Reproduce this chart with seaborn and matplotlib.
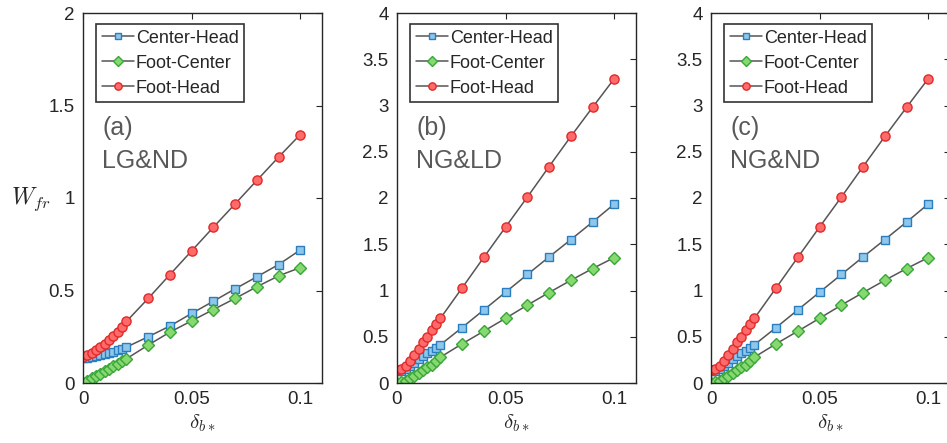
import numpy as np
import pandas as pd
import matplotlib
matplotlib.use('Agg')
import matplotlib.pyplot as plt
import seaborn as sns

# x values (delta_b*)
delta = [0, 0.002, 0.004, 0.006, 0.008, 0.01, 0.012, 0.014, 0.016, 0.018, 0.02,
         0.03, 0.04, 0.05, 0.06, 0.07, 0.08, 0.09, 0.1]

# panel (a) LG&ND
a_center_head = [0.135, 0.137, 0.140, 0.145, 0.150, 0.156, 0.162, 0.169, 0.176, 0.185, 0.194,
                 0.250, 0.308, 0.376, 0.442, 0.509, 0.574, 0.640, 0.719]
a_foot_center = [0.0, 0.012, 0.025, 0.038, 0.051, 0.064, 0.077, 0.090, 0.104, 0.117, 0.131,
                 0.205, 0.275, 0.336, 0.397, 0.457, 0.520, 0.579, 0.624]
a_foot_head = [0.138, 0.150, 0.163, 0.178, 0.195, 0.213, 0.232, 0.252, 0.274, 0.302, 0.333,
               0.457, 0.586, 0.714, 0.842, 0.968, 1.095, 1.221, 1.343]

# panel (b) NG&LD
b_center_head = [0.13, 0.13, 0.15, 0.18, 0.22, 0.26, 0.29, 0.32, 0.35, 0.38, 0.414,
                 0.600, 0.791, 0.982, 1.173, 1.363, 1.550, 1.740, 1.935]
b_foot_center = [0.0, 0.01, 0.025, 0.05, 0.08, 0.11, 0.14, 0.17, 0.20, 0.24, 0.28,
                 0.424, 0.561, 0.700, 0.842, 0.978, 1.110, 1.237, 1.356]
b_foot_head = [0.144, 0.15, 0.18, 0.234, 0.30, 0.37, 0.44, 0.50, 0.57, 0.64, 0.70,
               1.029, 1.360, 1.687, 2.010, 2.340, 2.665, 2.980, 3.290]

# panel (c) NG&ND
c_center_head = [0.13, 0.13, 0.15, 0.18, 0.22, 0.26, 0.29, 0.32, 0.35, 0.38, 0.414,
                 0.600, 0.791, 0.982, 1.173, 1.363, 1.550, 1.740, 1.935]
c_foot_center = [0.0, 0.01, 0.025, 0.05, 0.08, 0.11, 0.14, 0.17, 0.20, 0.24, 0.28,
                 0.424, 0.561, 0.700, 0.842, 0.978, 1.110, 1.237, 1.356]
c_foot_head = [0.144, 0.15, 0.18, 0.234, 0.30, 0.37, 0.44, 0.50, 0.57, 0.64, 0.70,
               1.029, 1.360, 1.687, 2.010, 2.340, 2.665, 2.980, 3.290]

panels = [
    ('(a)', 'LG&ND', 2, [0, 0.5, 1, 1.5, 2], [a_center_head, a_foot_center, a_foot_head]),
    ('(b)', 'NG&LD', 4, [0, 0.5, 1, 1.5, 2, 2.5, 3, 3.5, 4], [b_center_head, b_foot_center, b_foot_head]),
    ('(c)', 'NG&ND', 4, [0, 0.5, 1, 1.5, 2, 2.5, 3, 3.5, 4], [c_center_head, c_foot_center, c_foot_head]),
]
series_names = ['Center-Head', 'Foot-Center', 'Foot-Head']
markers = ['s', 'D', 'o']
face_colors = ['#8fc7ea', '#86d96e', '#ff6b6b']
edge_colors = ['#2a7dbf', '#3aa53a', '#e02a2a']
marker_sizes = [5.2, 5.8, 6.6]

sns.set_style('white')
plt.rcParams['font.family'] = ['Liberation Sans', 'DejaVu Sans']
plt.rcParams['mathtext.fontset'] = 'cm'

fig = plt.figure(figsize=(9.47, 4.43), dpi=100)
W, H = 947, 443
lefts = [83, 397, 711]

for i, (tag, name, ymax, yticks, ys) in enumerate(panels):
    ax = fig.add_axes([lefts[i] / W, (H - 383) / H, 239 / W, 370 / H])
    for j in range(3):
        df = pd.DataFrame({'delta': delta, 'W': ys[j]})
        sns.lineplot(data=df, x='delta', y='W', ax=ax, color='#555555', linewidth=1.1,
                     marker=markers[j], markersize=marker_sizes[j],
                     markerfacecolor=face_colors[j], markeredgecolor=edge_colors[j],
                     markeredgewidth=1.0, label=series_names[j])
    ax.set_xlim(0, 0.11)
    ax.set_ylim(0, ymax)
    ax.set_xticks([0, 0.05, 0.1])
    ax.set_xticklabels(['0', '0.05', '0.1'])
    ax.set_yticks(yticks)
    ax.set_yticklabels([('%g' % v) for v in yticks])
    ax.tick_params(direction='in', top=True, right=True, length=4, width=0.8,
                   labelsize=13.5, colors='#262626', pad=6)
    for sp in ax.spines.values():
        sp.set_color('#262626')
        sp.set_linewidth(1.0)
    ax.set_xlabel(r'$\delta_{b*}$', fontsize=15, color='#262626', labelpad=3)
    if i == 0:
        ax.set_ylabel(r'$W_{fr}$', fontsize=17, rotation=0, color='#262626', labelpad=20)
        ax.yaxis.set_label_coords(-0.22, 0.46)
    else:
        ax.set_ylabel('')
    ax.text(0.08, 0.69, tag, transform=ax.transAxes, fontsize=18, color='#595959', va='center')
    ax.text(0.08, 0.60, name, transform=ax.transAxes, fontsize=18, color='#595959', va='center')
    leg = ax.legend(loc='upper left', bbox_to_anchor=(0.055, 0.97), fontsize=13,
                    frameon=True, fancybox=False, handlelength=1.8, handletextpad=0.1,
                    borderpad=0.3, labelspacing=0.45, borderaxespad=0.0, markerscale=0.8)
    leg.get_frame().set_edgecolor('#000000')
    leg.get_frame().set_linewidth(1.2)

fig.savefig('out.png', dpi=100)
